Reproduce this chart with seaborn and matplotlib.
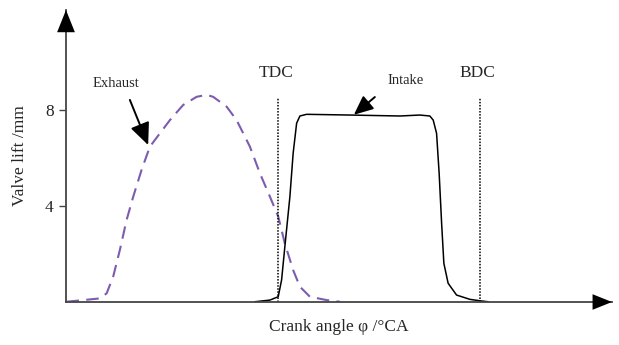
import matplotlib
matplotlib.use("Agg")
import matplotlib.pyplot as plt
import seaborn as sns
import pandas as pd

# ---- data (crank angle in °CA, lift in mm) ----
exhaust_angle = [171.6, 201.3, 207.3, 213.1, 219.1, 225.1, 231.0, 238.4, 245.8,
                 254.8, 263.7, 275.5, 287.5, 296.4, 302.2, 314.2, 323.1, 335.0,
                 343.9, 352.8, 360.2, 366.1, 373.5, 379.5, 388.4, 403.3, 415.1]
exhaust_lift = [0.01, 0.15, 0.36, 1.05, 2.17, 3.42, 4.39, 5.50, 6.47,
                7.03, 7.58, 8.21, 8.55, 8.63, 8.55, 8.14, 7.58, 6.47,
                5.36, 4.39, 3.56, 2.44, 1.33, 0.64, 0.22, 0.08, 0.01]

intake_angle = [339.4, 352.8, 360.2, 363.2, 366.1, 370.6, 373.5, 376.6, 379.5,
                385.5, 424.0, 468.6, 486.4, 495.3, 498.3, 501.3, 503.6, 505.8,
                507.8, 511.6, 519.1, 531.0, 540.0, 547.3]
intake_lift = [0.01, 0.08, 0.22, 0.92, 2.30, 4.39, 6.20, 7.45, 7.75,
               7.82, 7.79, 7.75, 7.79, 7.75, 7.58, 7.03, 5.36, 3.28,
               1.61, 0.78, 0.29, 0.11, 0.05, 0.01]

tdc_angle = 360
bdc_angle = 540
marker_labels = ["TDC", "BDC"]
y_ticks = [4, 8]

sns.set_style("white")
plt.rcParams["font.family"] = ["Liberation Serif", "DejaVu Serif"]

fig = plt.figure(figsize=(6.19, 3.45), dpi=100)
W, H = 619, 345
x0, x1 = 66, 612
y0, y1 = 302, 10
ax = fig.add_axes([x0 / W, (H - y0) / H, (x1 - x0) / W, (y0 - y1) / H])

pxdeg = 202 / 180.0
xmin = tdc_angle - (278 - x0) / pxdeg
xmax = xmin + (x1 - x0) / pxdeg
ax.set_xlim(xmin, xmax)
ax.set_ylim(0, (y0 - y1) / 24.0)

ex = pd.DataFrame({"angle": exhaust_angle, "lift": exhaust_lift})
it = pd.DataFrame({"angle": intake_angle, "lift": intake_lift})
sns.lineplot(data=ex, x="angle", y="lift", ax=ax, color="#7d5cb0", lw=1.5,
             linestyle=(0, (6, 3.5)), sort=False)
sns.lineplot(data=it, x="angle", y="lift", ax=ax, color="black", lw=1.1, sort=False)

for a, lab in zip([tdc_angle, bdc_angle], marker_labels):
    ax.plot([a, a], [0, 8.5], color="black", lw=1.1, linestyle=(0, (1, 1)))
    ax.text(a - 2, 9.2, lab, ha="center", va="bottom", fontsize=12.5)

# annotations
ax.text(215.6, 9.1, "Exhaust", ha="center", va="center", fontsize=10.5)
ax.annotate("", xy=(244.3, 6.54), xytext=(228.0, 8.42),
            arrowprops=dict(arrowstyle="-|>,head_length=0.9,head_width=0.4",
                            color="black", lw=1.4, mutation_scale=15, shrinkA=0, shrinkB=0))
ax.text(473.9, 9.25, "Intake", ha="center", va="center", fontsize=10.5)
ax.annotate("", xy=(427.6, 7.8), xytext=(446.3, 8.54),
            arrowprops=dict(arrowstyle="-|>,head_length=0.9,head_width=0.4",
                            color="black", lw=1.4, mutation_scale=13, shrinkA=0, shrinkB=0))

# axes styling
for s in ["top", "right"]:
    ax.spines[s].set_visible(False)
for s in ["left", "bottom"]:
    ax.spines[s].set_color("#444444")
    ax.spines[s].set_linewidth(1.3)
ax.set_xticks([])
ax.set_yticks(y_ticks)
ax.set_yticklabels([str(v) for v in y_ticks], fontsize=12.5)
ax.tick_params(axis="y", direction="out", length=5, width=1, color="#444444", pad=4, left=True)
ax.set_xlabel("Crank angle φ /°CA", fontsize=12.5, labelpad=12)
ax.set_ylabel("Valve lift /mm", fontsize=12.5, labelpad=12)

# arrowheads at axis ends
ax.annotate("", xy=(0, 1.0), xytext=(0, 0.9), xycoords="axes fraction",
            arrowprops=dict(arrowstyle="-|>,head_length=1.0,head_width=0.4",
                            color="black", lw=0, mutation_scale=16, shrinkA=0, shrinkB=0))
ax.annotate("", xy=(1.0, 0), xytext=(0.95, 0), xycoords="axes fraction",
            arrowprops=dict(arrowstyle="-|>,head_length=1.0,head_width=0.4",
                            color="black", lw=0, mutation_scale=14, shrinkA=0, shrinkB=0))

fig.savefig("out.png", dpi=100)
